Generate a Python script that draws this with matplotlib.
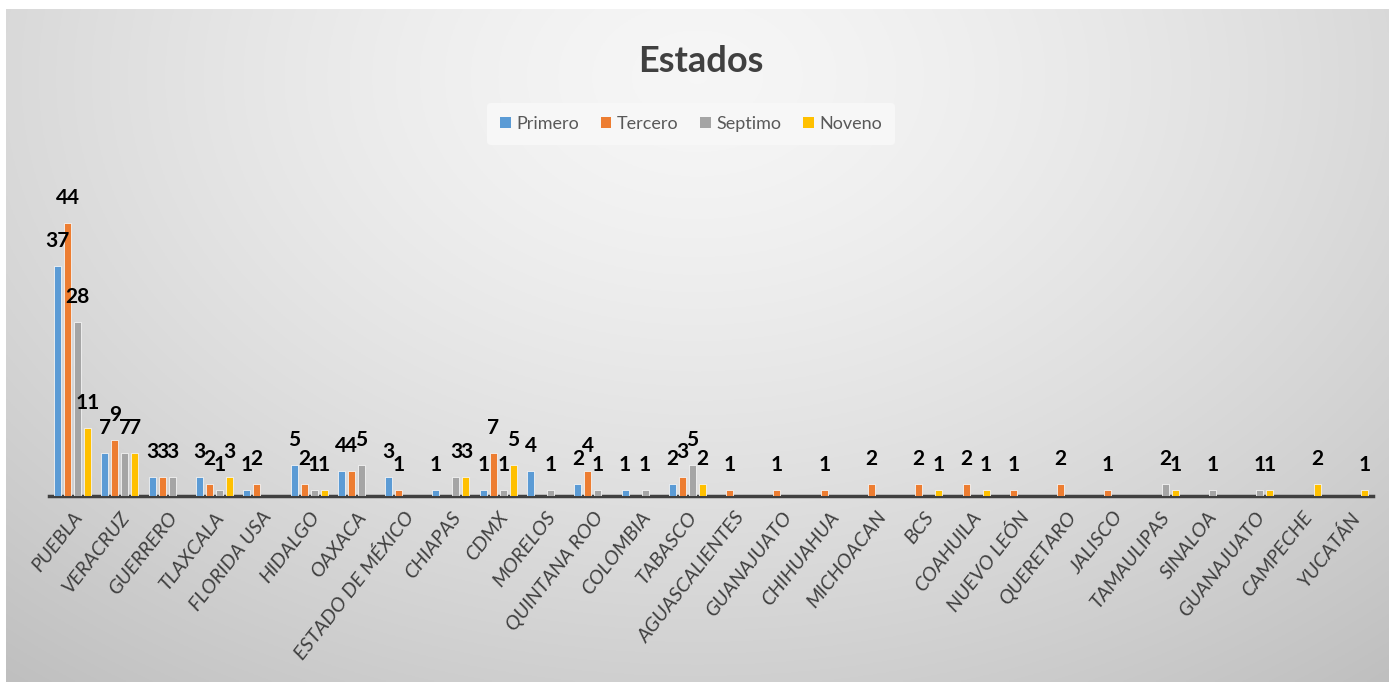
import numpy as np
import matplotlib
matplotlib.use("Agg")
import matplotlib.pyplot as plt
from matplotlib.patches import Patch

plt.rcParams["font.family"] = ["DejaVu Sans Condensed", "Lato", "DejaVu Sans"]

estados = ["PUEBLA", "VERACRUZ", "GUERRERO", "TLAXCALA", "FLORIDA USA", "HIDALGO",
           "OAXACA", "ESTADO DE MÉXICO", "CHIAPAS", "CDMX", "MORELOS", "QUINTANA ROO",
           "COLOMBIA", "TABASCO", "AGUASCALIENTES", "GUANAJUATO", "CHIHUAHUA",
           "MICHOACAN", "BCS", "COAHUILA", "NUEVO LEÓN", "QUERETARO", "JALISCO",
           "TAMAULIPAS", "SINALOA", "GUANAJUATO", "CAMPECHE", "YUCATÁN"]

primero = [37, 7, 3, 3, 1, 5, 4, 3, 1, 1, 4, 2, 1, 2, 0, 0, 0, 0, 0, 0, 0, 0, 0, 0, 0, 0, 0, 0]
tercero = [44, 9, 3, 2, 2, 2, 4, 1, 0, 7, 0, 4, 0, 3, 1, 1, 1, 2, 2, 2, 1, 2, 1, 0, 0, 0, 0, 0]
septimo = [28, 7, 3, 1, 0, 1, 5, 0, 3, 1, 1, 1, 1, 5, 0, 0, 0, 0, 0, 0, 0, 0, 0, 2, 1, 1, 0, 0]
noveno  = [11, 7, 0, 3, 0, 1, 0, 0, 3, 5, 0, 0, 0, 2, 0, 0, 0, 0, 1, 1, 0, 0, 0, 1, 0, 1, 2, 1]

series = ["Primero", "Tercero", "Septimo", "Noveno"]
colores = ["#5B9BD5", "#ED7D31", "#A5A5A5", "#FFC000"]

W, H = 1389, 682
fig = plt.figure(figsize=(W / 100, H / 100), dpi=100)
fig.patch.set_facecolor("white")

# degradado radial de fondo
bg = fig.add_axes([6 / W, 0, 1 - 6 / W, 1 - 9 / H])
yy, xx = np.mgrid[0:1:300j, 0:1:600j]
r = np.sqrt(((xx - 0.5) / 0.75) ** 2 + ((yy - 0.1) / 1.1) ** 2)
val = 0.965 - 0.2 * np.clip(r, 0, 1.2) ** 1.4
bg.imshow(np.dstack([val, val, val]), aspect="auto", extent=[0, 1, 1, 0])
bg.set_axis_off()

ax = fig.add_axes([49 / W, 186 / H, 1324 / W, 310.5 / H])
ax.patch.set_alpha(0)

n = len(estados)
x = np.arange(n)
paso = 0.211
ancho = 0.148
datos = [primero, tercero, septimo, noveno]
for i, (vals, col) in enumerate(zip(datos, colores)):
    pos = x + (i - 1.5) * paso
    ax.bar(pos, vals, width=ancho, color=col, edgecolor="#f4f4f4", linewidth=0.6, zorder=3)
    for p, v in zip(pos, vals):
        if v > 0:
            ax.annotate(str(v), (p, v), xytext=(0, 18), textcoords="offset points",
                        ha="center", va="center", fontsize=15, fontweight="bold",
                        color="black", zorder=4)

ax.set_xlim(-0.5, n - 0.5)
ax.set_ylim(0, 50)
ax.set_yticks([])
for s in ["top", "right", "left"]:
    ax.spines[s].set_visible(False)
ax.spines["bottom"].set_color("#404040")
ax.spines["bottom"].set_linewidth(2.5)
ax.set_xticks(x)
ax.set_xticklabels(estados, rotation=52, ha="right", rotation_mode="anchor",
                   fontsize=14.5, fontstyle="italic", color="#404040")
ax.tick_params(axis="x", length=0, pad=9)

fig.text(701 / W, 1 - 62 / H, "Estados", ha="center", va="center",
         fontsize=26, fontweight="bold", color="#404040")

handles = [Patch(facecolor=c, label=s) for s, c in zip(series, colores)]
leg = fig.legend(handles=handles, loc="center", bbox_to_anchor=(691 / W, 1 - 124 / H),
                 ncol=4, frameon=True, fontsize=13, handlelength=0.6, handleheight=0.6,
                 handletextpad=0.3, columnspacing=1.2, borderpad=0.7)
leg.get_frame().set_facecolor("#f7f7f7")
leg.get_frame().set_edgecolor("none")
leg.get_frame().set_alpha(1)
for t in leg.get_texts():
    t.set_color("#595959")

fig.savefig("out.png", dpi=100)
